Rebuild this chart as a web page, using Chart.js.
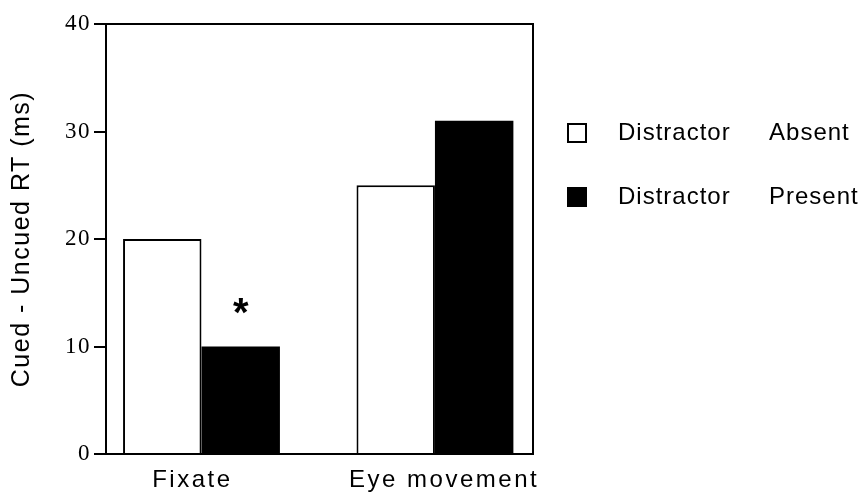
<!DOCTYPE html>
<html><head><meta charset="utf-8">
<script src="https://cdn.jsdelivr.net/npm/chart.js@4/dist/chart.umd.min.js"></script>
<style>html,body{margin:0;padding:0;background:#fff;overflow:hidden}</style>
</head><body>
<canvas id="c" width="868" height="493"></canvas>
<script>
const categories = ['Fixate', 'Eye movement'];
const seriesNames = ['Distractor Absent', 'Distractor Present'];
const distractorAbsent = [20, 25];
const distractorPresent = [10, 31];
const significance = ['*', ''];
const yTicks = [0, 10, 20, 30, 40];
const yTitle = 'Cued - Uncued RT (ms)';

const SANS = '"Liberation Sans", Arial, sans-serif';
const SERIF = '"Liberation Serif", "Times New Roman", serif';

const spacing = {
  id: 'spacing',
  beforeDraw(chart) { chart.ctx.letterSpacing = '1.5px'; }
};

const frame = {
  id: 'frame',
  afterDatasetsDraw(chart) {
    const {ctx, chartArea: a} = chart;
    ctx.save();
    ctx.strokeStyle = '#000';
    ctx.lineWidth = 2;
    ctx.beginPath();
    ctx.moveTo(a.left, Math.round(a.top));
    ctx.lineTo(Math.round(a.right), Math.round(a.top));
    ctx.lineTo(Math.round(a.right), a.bottom);
    ctx.stroke();
    ctx.restore();
  }
};

const sigMarks = {
  id: 'sigMarks',
  afterDatasetsDraw(chart) {
    const meta = chart.getDatasetMeta(1);
    const ctx = chart.ctx;
    ctx.save();
    ctx.letterSpacing = '0px';
    ctx.font = 'bold 40px ' + SANS;
    ctx.textAlign = 'center';
    ctx.textBaseline = 'alphabetic';
    ctx.fillStyle = '#000';
    significance.forEach((s, i) => {
      if (!s) return;
      const bar = meta.data[i];
      ctx.fillText(s, bar.x, bar.y - 21);
    });
    ctx.restore();
  }
};

const legendBox = {
  id: 'legendBox',
  afterDraw(chart) {
    const {ctx, chartArea: a} = chart;
    ctx.save();
    ctx.letterSpacing = '1px';
    ctx.font = '24px ' + SANS;
    ctx.textBaseline = 'middle';
    ctx.textAlign = 'left';
    chart.data.datasets.forEach((ds, i) => {
      const cy = 133 + i * 64;
      const bx = a.right + 34, by = cy - 10;
      ctx.fillStyle = ds.backgroundColor;
      ctx.fillRect(bx, by, 20, 20);
      ctx.lineWidth = 2;
      ctx.strokeStyle = '#000';
      ctx.strokeRect(bx + 1, by + 1, 18, 18);
      ctx.fillStyle = '#000';
      ctx.fillText(ds.label.replace(' ', '     '), a.right + 85, cy);
    });
    ctx.restore();
  }
};

function widenLabels(scale) {
  if (scale._wide) return;
  const orig = scale.drawLabels.bind(scale);
  scale.drawLabels = (area) => {
    const ctx = scale.ctx;
    const prev = ctx.letterSpacing;
    ctx.letterSpacing = '2.5px';
    orig(area);
    ctx.letterSpacing = prev;
  };
  scale._wide = true;
}

new Chart(document.getElementById('c'), {
  type: 'bar',
  data: {
    datasets: [
      {
        label: seriesNames[0],
        data: distractorAbsent.map((v, i) => ({x: i, y: v})),
        backgroundColor: '#ffffff',
        borderColor: '#000000',
        borderWidth: 2,
        borderSkipped: 'start'
      },
      {
        label: seriesNames[1],
        data: distractorPresent.map((v, i) => ({x: i, y: v})),
        backgroundColor: '#000000',
        borderColor: '#000000',
        borderWidth: 0
      }
    ]
  },
  options: {
    responsive: false,
    devicePixelRatio: 1,
    animation: false,
    categoryPercentage: 0.672,
    barPercentage: 1,
    layout: { padding: { left: 0, right: 335, top: 24, bottom: 0 } },
    plugins: { legend: { display: false }, tooltip: { enabled: false } },
    scales: {
      x: {
        type: 'linear',
        bounds: 'data',
        min: -0.409,
        max: 1.42,
        offset: false,
        afterBuildTicks: s => { s.ticks = categories.map((c, i) => ({value: i})); },
        afterFit: s => { s.height = 39; widenLabels(s); },
        grid: { display: false, drawTicks: false },
        border: { display: true, color: '#000', width: 2 },
        ticks: {
          color: '#000',
          font: { family: SANS, size: 24 },
          padding: 12,
          maxRotation: 0,
          autoSkip: false,
          callback: v => {
            const i = Math.round(v);
            const t = categories[i];
            if (t === undefined) return '';
            return i === 0 ? t + '  ' : '  ' + t;
          }
        }
      },
      y: {
        min: 0,
        max: 40,
        afterBuildTicks: s => { s.ticks = yTicks.map(v => ({value: v})); },
        afterFit: s => { s.width = 106; },
        grid: { drawOnChartArea: false, drawTicks: true, tickLength: 12, color: '#000', lineWidth: 2 },
        border: { color: '#000', width: 2 },
        ticks: { color: '#000', font: { family: SERIF, size: 23 }, padding: 3 },
        title: {
          display: true,
          text: yTitle,
          color: '#000',
          font: { family: SANS, size: 25 },
          padding: { top: 7, bottom: 0 }
        }
      }
    }
  },
  plugins: [spacing, frame, sigMarks, legendBox]
});
</script>
</body></html>
